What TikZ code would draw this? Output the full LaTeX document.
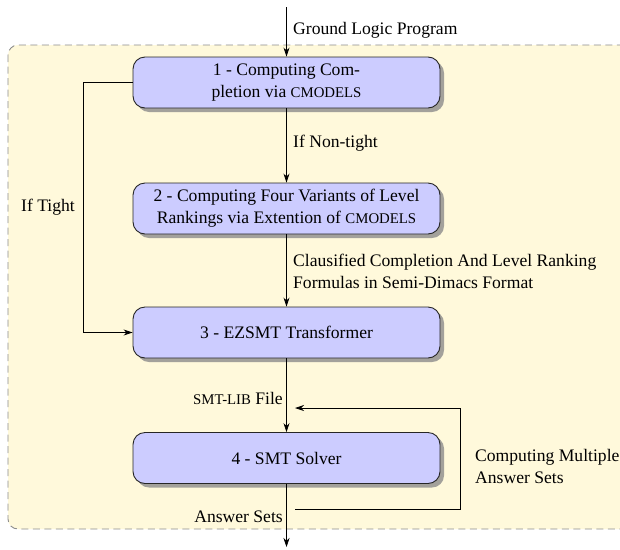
\documentclass[tikz,border=0pt]{standalone}
\usepackage{fontspec}
\setmainfont{Liberation Serif}
\usetikzlibrary{arrows.meta,shadows}
\definecolor{stagefill}{RGB}{204,204,255}
\definecolor{bgfill}{RGB}{255,249,219}
\newcommand\fakesc[1]{{\fontsize{14.8}{16}\selectfont #1}}
\begin{document}
\begin{tikzpicture}[x=1pt,y=-1pt, font=\fontsize{17.6}{22}\selectfont,
  stage/.style={draw=black!85, line width=0.9pt, fill=stagefill, rounded corners=12pt,
    minimum width=307pt, minimum height=51pt, align=center, inner sep=0pt,
    drop shadow={shadow xshift=4pt, shadow yshift=-4pt, fill=black!45, opacity=0.8}},
  conn/.style={line width=0.8pt, -{Stealth[length=9pt,width=6pt]}},
  lbl/.style={inner sep=0pt, align=left}]
\useasboundingbox (0,0) rectangle (620,549);
\clip (0,0) rectangle (620,549);
\draw[dash pattern=on 7pt off 4.5pt, draw=black!45, line width=0.9pt, fill=bgfill, rounded corners=10pt] (8,45) rectangle (660,529);

\node[stage] (s1) at (286.5,82.5) {1 - Computing Com-\\pletion via \fakesc{CMODELS}};
\node[stage] (s2) at (286.5,208.5) {2 - Computing Four Variants of Level\\Rankings via Extention of \fakesc{CMODELS}};
\node[stage] (s3) at (286.5,332.5) {3 - EZSMT Transformer};
\node[stage] (s4) at (286.5,458) {4 - SMT Solver};

\coordinate (top) at (286.5,7);
\coordinate (bot) at (286.5,547);
\coordinate (ltc) at (83,82.5);
\coordinate (fbs) at (295,509);
\coordinate (fbc) at (460,408);
\coordinate (fbe) at (295,408);

\draw[conn] (top) -- (s1.north);
\draw[conn] (s1.south) -- (s2.north);
\draw[conn] (s2.south) -- (s3.north);
\draw[conn] (s3.south) -- (s4.north);
\draw[conn] (s4.south) -- (bot);
\draw[conn] (s1.west) -- (ltc) |- (s3.west);
\draw[conn] (fbs) -| (fbc) -- (fbe);

\node[lbl, anchor=west] (lg) at (293,30) {Ground Logic Program};
\node[lbl, anchor=west] (ln) at (293,143) {If Non-tight};
\node[lbl] (lt) at (48,207) {If Tight};
\node[lbl, anchor=west] (lc) at (293,271.5) {Clausified Completion And Level Ranking\\Formulas in Semi-Dimacs Format};
\node[lbl, anchor=east] (lf) at (283,398) {\fakesc{SMT-LIB} File};
\node[lbl, anchor=west] (lm) at (475,466.5) {Computing Multiple\\Answer Sets};
\node[lbl, anchor=east] (la) at (283,517) {Answer Sets};
\end{tikzpicture}
\end{document}
